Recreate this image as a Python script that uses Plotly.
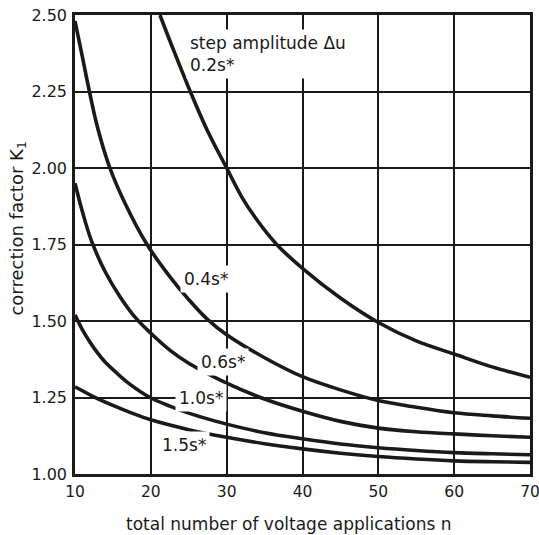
import plotly.graph_objects as go

# ---- data ----
n_02 = [21.2, 23, 25.2, 27.5, 30, 32, 34, 36.6, 40, 45, 50, 55, 60, 65, 70]
k_02 = [2.50, 2.385, 2.25, 2.12, 2.00, 1.905, 1.83, 1.75, 1.672, 1.575, 1.495, 1.435, 1.392, 1.35, 1.316]

n_04 = [10, 11, 11.9, 13, 14.6, 16.5, 19.5, 22.5, 25, 27.4, 30, 35, 40, 45, 50, 55, 60, 65, 70]
k_04 = [2.48, 2.36, 2.25, 2.13, 2.00, 1.89, 1.75, 1.645, 1.57, 1.507, 1.455, 1.38, 1.318, 1.275, 1.24, 1.218, 1.20, 1.19, 1.182]

n_06 = [10, 11, 12.2, 14, 16, 18, 20, 22.5, 25, 30, 35, 40, 45, 50, 55, 60, 65, 70]
k_06 = [1.95, 1.855, 1.76, 1.66, 1.577, 1.51, 1.46, 1.405, 1.362, 1.297, 1.245, 1.205, 1.172, 1.15, 1.138, 1.131, 1.125, 1.12]

n_10 = [10, 11, 12, 13, 14, 15.5, 17, 19.9, 22.5, 25, 30, 35, 40, 45, 50, 55, 60, 65, 70]
k_10 = [1.52, 1.47, 1.43, 1.395, 1.365, 1.33, 1.298, 1.25, 1.222, 1.199, 1.163, 1.135, 1.115, 1.098, 1.086, 1.077, 1.07, 1.066, 1.063]

n_15 = [10, 12.5, 15, 17.5, 20, 25, 30, 35, 40, 45, 50, 55, 60, 65, 70]
k_15 = [1.285, 1.252, 1.224, 1.199, 1.177, 1.145, 1.12, 1.099, 1.082, 1.068, 1.057, 1.049, 1.043, 1.04, 1.038]

series = [(n_02, k_02), (n_04, k_04), (n_06, k_06), (n_10, k_10), (n_15, k_15)]

x_ticks = [10, 20, 30, 40, 50, 60, 70]
y_ticks = [1.00, 1.25, 1.50, 1.75, 2.00, 2.25, 2.50]
y_tick_text = ["1.00", "1.25", "1.50", "1.75", "2.00", "2.25", "2.50"]

labels = [
    ("step amplitude Δu<br>0.2s*", 24.6, 2.373),
    ("0.4s*", 23.85, 1.636),
    ("0.6s*", 26.1, 1.366),
    ("1.0s*", 23.2, 1.248),
    ("1.5s*", 20.95, 1.095),
]

INK = "#1a1a1a"
FONT = "DejaVu Sans"

fig = go.Figure()
for nx, ky in series:
    fig.add_trace(go.Scatter(
        x=nx, y=ky, mode="lines",
        line=dict(color=INK, width=3.6, shape="spline", smoothing=1.0),
        hoverinfo="skip", showlegend=False,
    ))

for text, lx, ly in labels:
    fig.add_annotation(
        x=lx, y=ly, xref="x", yref="y", text=text, showarrow=False,
        xanchor="left", yanchor="middle", align="left",
        font=dict(family=FONT, size=17, color=INK),
        bgcolor="white", borderpad=3,
    )

# axis titles
fig.add_annotation(
    x=0.47, y=-0.108, xref="paper", yref="paper",
    text="total number of voltage applications n", showarrow=False,
    xanchor="center", yanchor="middle",
    font=dict(family=FONT, size=17, color=INK),
)
fig.add_annotation(
    x=-0.125, y=0.535, xref="paper", yref="paper",
    text="correction factor K<sub>1</sub>", showarrow=False, textangle=-90,
    xanchor="center", yanchor="middle",
    font=dict(family=FONT, size=18, color=INK),
)

fig.update_layout(
    width=539, height=535,
    margin=dict(l=75, r=9, t=15, b=61),
    paper_bgcolor="white", plot_bgcolor="white",
    showlegend=False,
)
fig.update_xaxes(
    range=[10, 70], tickvals=x_ticks, ticks="", automargin=False,
    ticklabeloverflow="allow",
    showgrid=True, gridcolor=INK, gridwidth=1.6,
    showline=True, linecolor=INK, linewidth=2.6, mirror=True,
    zeroline=False, tickfont=dict(family=FONT, size=15.5, color=INK),
    ticklabelstandoff=2,
)
fig.update_yaxes(
    range=[1.0, 2.5], tickvals=y_ticks, ticktext=y_tick_text, ticks="", automargin=False,
    ticklabeloverflow="allow",
    showgrid=True, gridcolor=INK, gridwidth=1.6,
    showline=True, linecolor=INK, linewidth=2.6, mirror=True,
    zeroline=False, tickfont=dict(family=FONT, size=16, color=INK),
    ticklabelstandoff=2,
)

fig.write_html("out.html")
